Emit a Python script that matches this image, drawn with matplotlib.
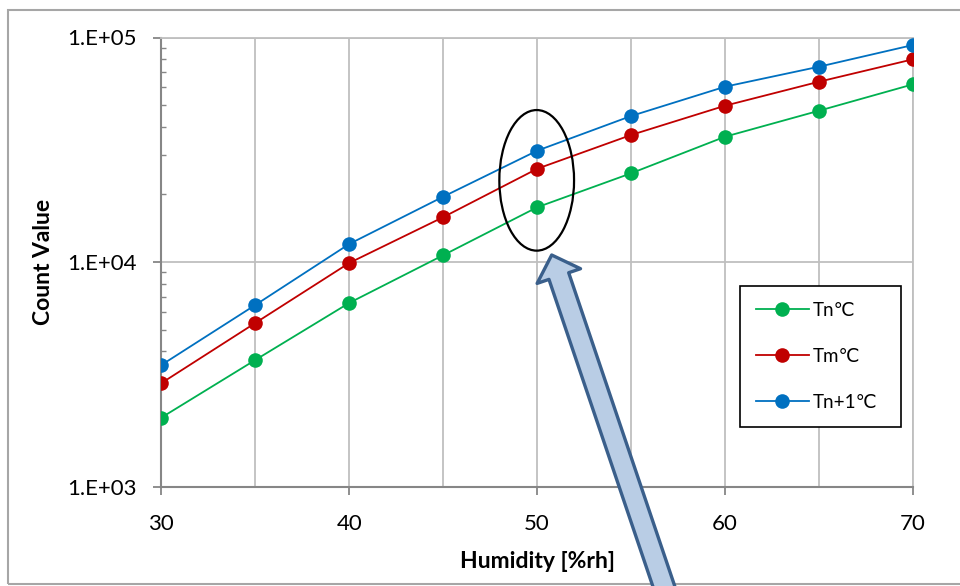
import matplotlib
matplotlib.use("Agg")
import matplotlib.pyplot as plt
from matplotlib.patches import Ellipse, Rectangle, FancyArrowPatch
from matplotlib.ticker import LogLocator, NullFormatter, FixedLocator

plt.rcParams['font.family'] = ['Lato', 'DejaVu Sans']

humidity = [30, 35, 40, 45, 50, 55, 60, 65, 70]
tn = [2030, 3665, 6580, 10730, 17540, 24860, 36170, 47210, 61880]
tm = [2890, 5355, 9910, 15850, 26030, 36810, 49700, 63560, 79980]
tn1 = [3480, 6440, 12040, 19550, 31330, 44720, 60390, 74130, 92600]
series_labels = ['Tn\u2103', 'Tm\u2103', 'Tn+1\u2103']
series_colors = ['#00b050', '#c00000', '#0070c0']
y_tick_values = [1e3, 1e4, 1e5]
y_tick_labels = ['1.E+03', '1.E+04', '1.E+05']
x_tick_values = [30, 40, 50, 60, 70]

W, H = 960, 586
fig = plt.figure(figsize=(W / 100, H / 100), dpi=100)
ax = fig.add_axes([161.3 / W, 1 - 486.7 / H, (913 - 161.3) / W, (486.7 - 37.5) / H])

for vals, lab, col in zip([tn, tm, tn1], series_labels, series_colors):
    ax.plot(humidity, vals, color=col, lw=1.3, marker='o', markersize=10.5,
            markeredgewidth=0, label=lab, zorder=3)

ax.set_yscale('log')
ax.set_ylim(1e3, 1e5)
ax.set_xlim(30, 70)

grid_c = '#bfbfbf'
axis_c = '#868686'
ax.yaxis.set_major_locator(FixedLocator(y_tick_values))
ax.set_yticklabels(y_tick_labels)
ax.yaxis.set_minor_locator(LogLocator(base=10, subs=range(2, 10)))
ax.yaxis.set_minor_formatter(NullFormatter())
ax.xaxis.set_major_locator(FixedLocator(x_tick_values))
ax.xaxis.set_minor_locator(FixedLocator([35, 45, 55, 65]))

ax.grid(True, which='major', axis='both', color=grid_c, lw=1.3)
ax.grid(True, which='minor', axis='x', color=grid_c, lw=1.3)
ax.set_axisbelow(True)

ax.tick_params(axis='y', which='major', direction='out', length=6, width=1.3,
               color=axis_c, pad=12, labelsize=16)
ax.tick_params(axis='y', which='minor', direction='in', length=3.5, width=1,
               color=axis_c)
ax.tick_params(axis='x', which='major', direction='out', length=6, width=1.3,
               color=axis_c, pad=14, labelsize=16)
ax.tick_params(axis='x', which='minor', length=0)

for s in ['left', 'bottom']:
    ax.spines[s].set_color(axis_c)
    ax.spines[s].set_linewidth(1.5)
for s in ['top', 'right']:
    ax.spines[s].set_color(grid_c)
    ax.spines[s].set_linewidth(1.3)

ax.set_ylabel('Count Value', fontsize=16.5, fontweight='bold', labelpad=9)
ax.set_xlabel('Humidity [%rh]', fontsize=16.5, fontweight='bold', labelpad=12)

leg = ax.legend(loc='upper left', bbox_to_anchor=(0.770, 0.4475, 0.214, 0.0),
                mode='expand', fontsize=13.5,
                frameon=True, fancybox=False, edgecolor='black', framealpha=1,
                handlelength=2.8, handletextpad=0.2, labelspacing=1.55,
                borderpad=0.85, borderaxespad=0)
leg.get_frame().set_linewidth(1.2)

# ellipse highlighting x = 50
ax.add_patch(Ellipse((0.4994, 0.682), 0.0994, 0.313, transform=ax.transAxes,
                     fill=False, edgecolor='black', lw=1.6, zorder=5,
                     clip_on=False))

# figure border
fig.add_artist(Rectangle((8 / W, 1 - 584 / H), 1.2, (584 - 9.5) / H,
                         transform=fig.transFigure, fill=False,
                         edgecolor='#a6a6a6', lw=1.5))

# big arrow
arrow = FancyArrowPatch((682 / W, 1 - 640 / H), (551.7 / W, 1 - 255 / H),
                        transform=fig.transFigure,
                        arrowstyle='simple,head_length=1.6,head_width=3.3,tail_width=1.5',
                        mutation_scale=10, facecolor='#b9cde5',
                        edgecolor='#3a5f8b', lw=2.4, zorder=10,
                        shrinkA=0, shrinkB=0)
fig.add_artist(arrow)

fig.savefig('out.png', dpi=100)
